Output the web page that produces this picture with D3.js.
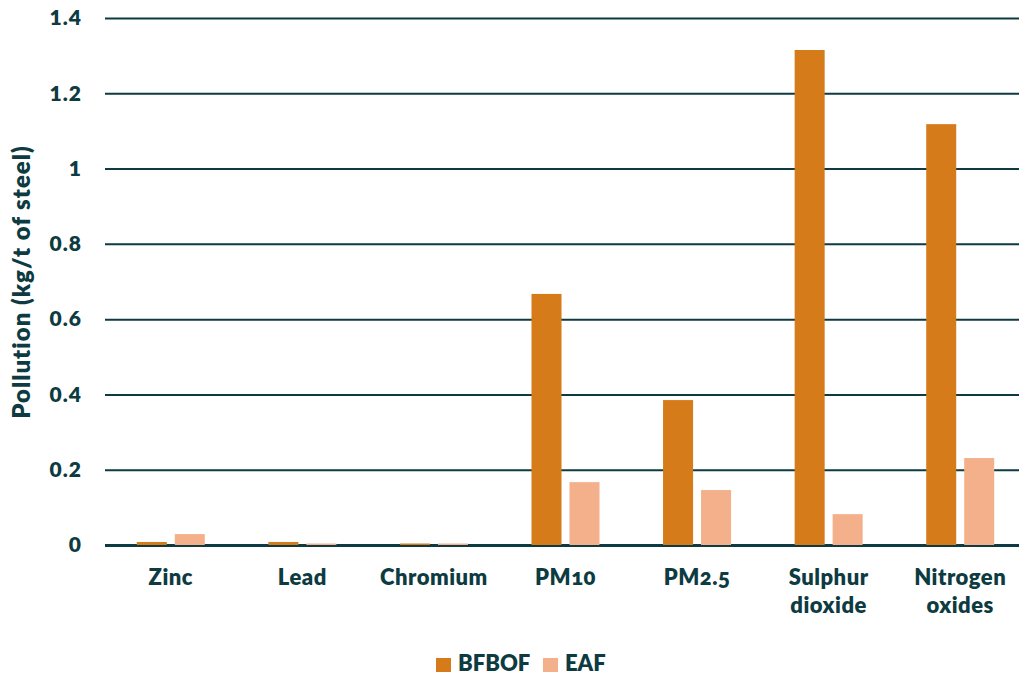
<!DOCTYPE html>
<html>
<head>
<meta charset="utf-8">
<script src="https://cdn.jsdelivr.net/npm/d3@7"></script>
<style>
  html, body { margin: 0; padding: 0; background: #ffffff; }
  svg { display: block; font-family: Lato, "Open Sans", sans-serif; font-weight: 700; }
</style>
</head>
<body>
<svg id="chart" width="1019" height="675"></svg>
<script>
// Emission intensity per tonne of steel, by pollutant and production route
const categories = ["Zinc", "Lead", "Chromium", "PM10", "PM2.5", "Sulphur dioxide", "Nitrogen oxides"];
const seriesNames = ["BFBOF", "EAF"];
const bfbofValues = [0.008, 0.008, 0.004, 0.667, 0.385, 1.315, 1.118];
const eafValues = [0.029, 0.004, 0.004, 0.167, 0.146, 0.082, 0.231];
const yTicks = [0, 0.2, 0.4, 0.6, 0.8, 1, 1.2, 1.4];
const seriesColors = ["#d57b1a", "#f4b08a"];

const ink = "#0d3b41";
const svg = d3.select("#chart");

const plotLeft = 105, plotRight = 1026, plotTop = 18, plotBottom = 545;

const x0 = d3.scaleBand().domain(categories).range([plotLeft, plotRight]).padding(0);
const y = d3.scaleLinear().domain([0, 1.4]).range([plotBottom, plotTop]);

const rows = categories.map((c, i) => ({ cat: c, values: [bfbofValues[i], eafValues[i]] }));

// Horizontal gridlines with tick labels
const yAxis = d3.axisLeft(y)
  .tickValues(yTicks)
  .tickSize(-(plotRight - plotLeft))
  .tickPadding(23)
  .tickFormat(d => d === 0 ? "0" : String(+d.toFixed(1)));

const gy = svg.append("g").attr("transform", `translate(${plotLeft},0)`).call(yAxis);
gy.select(".domain").remove();
gy.selectAll(".tick line")
  .attr("stroke", ink)
  .attr("stroke-width", d => d === 0 ? 3 : 2);
gy.selectAll(".tick text")
  .attr("fill", ink)
  .attr("font-size", 21)
  .attr("font-weight", 800)
  .attr("letter-spacing", 1)
  .attr("font-family", "Lato, sans-serif");

// Bars
const groups = svg.append("g").selectAll("g")
  .data(rows)
  .join("g");

groups.each(function(d) {
  const c = x0(d.cat) + x0.bandwidth() / 2;
  const x1 = d3.scaleBand().domain(seriesNames).range([c - 34, c + 34]).paddingInner(0.21);
  d3.select(this).selectAll("rect")
    .data(d.values.map((v, k) => ({ key: seriesNames[k], v, k })))
    .join("rect")
    .attr("x", e => x1(e.key))
    .attr("width", x1.bandwidth())
    .attr("y", e => y(e.v))
    .attr("height", e => y(0) - y(e.v))
    .attr("fill", e => seriesColors[e.k]);
});

// Category labels (multi-word names wrap onto two lines)
const xAxis = d3.axisBottom(x0).tickSize(0).tickPadding(0).tickFormat("");
const gx = svg.append("g").attr("transform", `translate(0,${plotBottom})`).call(xAxis);
gx.select(".domain").remove();
gx.selectAll(".tick").each(function(d) {
  const lines = d.split(" ");
  const t = d3.select(this).append("text")
    .attr("fill", ink)
    .attr("font-size", 22)
    .attr("font-weight", 800)
    .attr("letter-spacing", 0.5)
    .attr("font-family", "Lato, sans-serif")
    .attr("text-anchor", "middle")
    .style("font-variant-numeric", "oldstyle-nums");
  lines.forEach((ln, i) => {
    t.append("tspan").attr("x", 0).attr("y", 40 + i * 28).text(ln);
  });
});

// Y axis title
svg.append("text")
  .attr("transform", `translate(30,282) rotate(-90)`)
  .attr("text-anchor", "middle")
  .attr("fill", ink)
  .attr("font-size", 24)
  .attr("font-weight", 800)
  .attr("letter-spacing", 1)
  .text("Pollution (kg/t of steel)");

// Legend
const legendX = [436, 543];
const legend = svg.append("g").selectAll("g")
  .data(seriesNames)
  .join("g")
  .attr("transform", (d, i) => `translate(${legendX[i]},657)`);
legend.append("rect")
  .attr("y", 1)
  .attr("width", 15).attr("height", 14)
  .attr("fill", (d, i) => seriesColors[i]);
legend.append("text")
  .attr("x", 22).attr("y", 14)
  .attr("fill", ink)
  .attr("font-size", 22)
  .attr("font-weight", 800)
  .text(d => d);
</script>
</body>
</html>
